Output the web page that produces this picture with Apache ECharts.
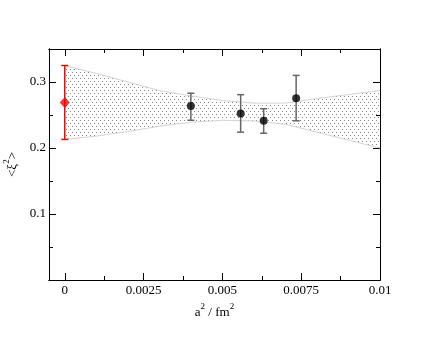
<!DOCTYPE html>
<html>
<head>
<meta charset="utf-8">
<script src="https://cdn.jsdelivr.net/npm/echarts@6/dist/echarts.min.js"></script>
<style>
html, body { margin: 0; padding: 0; background: #fff; }
#chart { width: 440px; height: 340px; }
</style>
</head>
<body>
<div id="chart"></div>
<script>
// continuum extrapolation (red diamond)
var contX = [0];
var contY = [0.269];
var contLo = [0.213];
var contHi = [0.325];

// lattice points (black circles)
var latX = [0.0040, 0.00558, 0.00631, 0.00734];
var latY = [0.2635, 0.2524, 0.2412, 0.2752];
var latLo = [0.242, 0.224, 0.2224, 0.2412];
var latHi = [0.283, 0.2808, 0.2595, 0.310];

// fit band
var bandX = [0, 0.001, 0.002, 0.003, 0.004, 0.005, 0.006, 0.007, 0.008, 0.009, 0.01];
var bandHi = [0.325, 0.313, 0.300, 0.287, 0.279, 0.272, 0.268, 0.268, 0.275, 0.281, 0.287];
var bandLo = [0.213, 0.218, 0.225, 0.233, 0.239, 0.242, 0.241, 0.236, 0.224, 0.212, 0.200];

// ticks
var xMajor = [0, 0.0025, 0.005, 0.0075, 0.01];
var xLabels = ['0', '0.0025', '0.005', '0.0075', '0.01'];
var xMinor = [0.00125, 0.00375, 0.00625, 0.00875];
var yMajor = [0.1, 0.2, 0.3];
var yLabels = ['0.1', '0.2', '0.3'];
var yMinor = [0.05, 0.15, 0.25];

var FONT = "'Liberation Serif', 'DejaVu Serif', serif";

// dotted fill for the band
var pat = document.createElement('canvas');
pat.width = 4;
pat.height = 6;
var pc = pat.getContext('2d');
pc.fillStyle = '#888';
pc.fillRect(0, 0, 1, 1);
pc.fillRect(2, 3, 1, 1);

// base text + superscript
var nameRich = {
    b: {fontFamily: FONT, fontSize: 13, color: '#000', lineHeight: 17, verticalAlign: 'bottom'},
    s: {fontFamily: FONT, fontSize: 9, color: '#000', lineHeight: 17, verticalAlign: 'top'}
};

function xAxisDef(pos, ticks, len, labels) {
    return {
        type: 'value', position: pos, min: -0.0005, max: 0.01,
        axisLine: {show: true, onZero: false, lineStyle: {color: '#000', width: 1}},
        axisTick: {show: true, inside: true, length: len, customValues: ticks, lineStyle: {color: '#000', width: 1}},
        axisLabel: labels ? {
            show: true, customValues: ticks, margin: 4, color: '#000', fontFamily: FONT, fontSize: 13,
            formatter: function (v) { return xLabels[xMajor.indexOf(v)]; }
        } : {show: false},
        splitLine: {show: false}
    };
}

function yAxisDef(pos, ticks, len, labels) {
    return {
        type: 'value', position: pos, min: 0, max: 0.35,
        axisLine: {show: true, onZero: false, lineStyle: {color: '#000', width: 1}},
        axisTick: {show: true, inside: true, length: len, customValues: ticks, lineStyle: {color: '#000', width: 1}},
        axisLabel: labels ? {
            show: true, customValues: ticks, margin: 3, color: '#000', fontFamily: FONT, fontSize: 13,
            formatter: function (v) { return yLabels[yMajor.indexOf(v)]; }
        } : {show: false},
        splitLine: {show: false}
    };
}

function errorBar(color, capW) {
    return function (params, api) {
        var x = api.value(0);
        var top = api.coord([x, api.value(2)]);
        var bot = api.coord([x, api.value(1)]);
        var st = {stroke: color, lineWidth: 1.5};
        return {
            type: 'group',
            children: [
                {type: 'line', shape: {x1: top[0], y1: top[1], x2: bot[0], y2: bot[1]}, style: st},
                {type: 'line', shape: {x1: top[0] - capW, y1: top[1], x2: top[0] + capW, y2: top[1]}, style: st},
                {type: 'line', shape: {x1: bot[0] - capW, y1: bot[1], x2: bot[0] + capW, y2: bot[1]}, style: st}
            ]
        };
    };
}

function renderBand(params, api) {
    if (params.dataIndex !== 0) return null;
    var upper = [], lower = [];
    for (var i = 0; i < bandX.length; i++) {
        upper.push(api.coord([bandX[i], bandHi[i]]));
        lower.push(api.coord([bandX[i], bandLo[i]]));
    }
    var poly = upper.concat(lower.slice().reverse());
    var edge = {stroke: '#d4d4d4', lineWidth: 1, fill: null};
    return {
        type: 'group',
        children: [
            {type: 'polygon', shape: {points: poly}, style: {fill: {image: pat, repeat: 'repeat'}}},
            {type: 'polyline', shape: {points: upper}, style: edge},
            {type: 'polyline', shape: {points: lower}, style: edge}
        ]
    };
}

var chart = echarts.init(document.getElementById('chart'), null, {renderer: 'canvas'});

var option = {
    animation: false,
    backgroundColor: '#fff',
    grid: {left: 49, top: 49, right: 60, bottom: 60, containLabel: false, outerBoundsMode: 'none'},
    xAxis: [
        Object.assign(xAxisDef('bottom', xMajor, 7, true), {
            name: '{b|a}{s|2}{b| / fm}{s|2}', nameLocation: 'middle', nameGap: 12,
            nameTextStyle: {color: '#000', fontFamily: FONT, fontSize: 13, rich: nameRich}
        }),
        xAxisDef('bottom', xMinor, 4, false),
        xAxisDef('top', xMajor, 7, false),
        xAxisDef('top', xMinor, 4, false)
    ],
    yAxis: [
        Object.assign(yAxisDef('left', yMajor, 7, true), {
            name: '{b|<\u03be}{s|2}{b|>}', nameLocation: 'middle', nameGap: 26, nameRotate: 90,
            nameTextStyle: {color: '#000', fontFamily: FONT, fontSize: 13, rich: nameRich}
        }),
        yAxisDef('left', yMinor, 4, false),
        yAxisDef('right', yMajor, 7, false),
        yAxisDef('right', yMinor, 4, false)
    ],
    series: [
        {
            type: 'custom', renderItem: renderBand, silent: true, z: 1,
            data: bandX.map(function (x, i) { return [x, bandLo[i], bandHi[i]]; }),
            encode: {x: 0, y: [1, 2]}
        },
        {
            type: 'custom', renderItem: errorBar('#666', 3.5), z: 2,
            data: latX.map(function (x, i) { return [x, latLo[i], latHi[i]]; }),
            encode: {x: 0, y: [1, 2]}
        },
        {
            type: 'custom', renderItem: errorBar('#ff0000', 3.5), z: 2,
            data: contX.map(function (x, i) { return [x, contLo[i], contHi[i]]; }),
            encode: {x: 0, y: [1, 2]}
        },
        {
            type: 'scatter', symbol: 'circle', symbolSize: 8, z: 3,
            itemStyle: {color: '#000'},
            data: latX.map(function (x, i) { return [x, latY[i]]; })
        },
        {
            type: 'scatter', symbol: 'diamond', symbolSize: [10, 11], z: 3,
            itemStyle: {color: '#ff0000'},
            data: contX.map(function (x, i) { return [x, contY[i]]; })
        }
    ]
};

chart.setOption(option);
</script>
</body>
</html>
